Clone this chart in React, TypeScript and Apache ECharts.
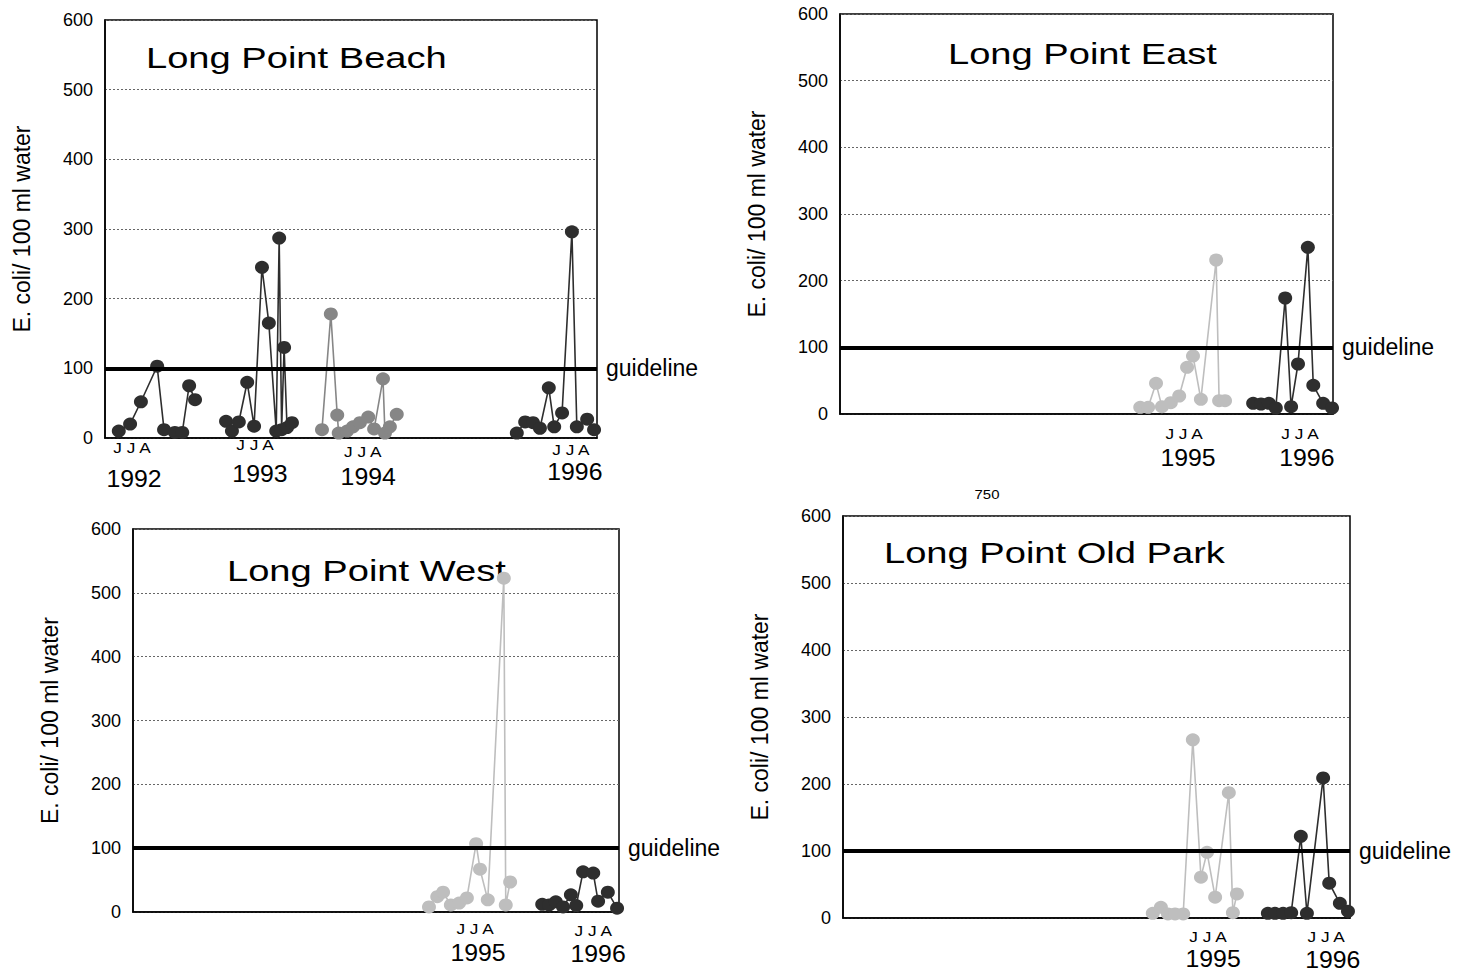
import React, { useEffect, useRef } from "react";
import * as echarts from "echarts";

const FONT = '"Liberation Sans", Arial, Helvetica, sans-serif';

// ---- axis / text content ----
const yTickValues = [0, 100, 200, 300, 400, 500, 600];
const yAxisTitle = "E. coli/ 100 ml water";
const guidelineValue = 100;
const guidelineLabel = "guideline";
const seasonLabel = "J J A";
const strayLabel = "750";

// ---- data: sample position along each panel's time axis (0-100) and E. coli counts ----
// Long Point Beach
const beach1992X = [2.8, 5.1, 7.3, 10.6, 12.0, 14.2, 15.7, 17.1, 18.3];
const beach1992Y = [10, 20, 52, 103, 12, 8, 8, 75, 55];
const beach1993X = [24.6, 25.8, 27.2, 28.9, 30.3, 31.9, 33.3, 34.8, 35.4, 35.9, 36.4, 37.0, 38.0];
const beach1993Y = [24, 10, 23, 80, 17, 245, 165, 10, 287, 12, 130, 15, 22];
const beach1994X = [44.1, 45.9, 47.2, 47.5, 49.2, 50.4, 51.8, 53.5, 54.7, 56.5, 56.9, 57.9, 59.3];
const beach1994Y = [12, 178, 33, 7, 10, 16, 22, 30, 13, 85, 7, 16, 34];
const beach1996X = [83.7, 85.4, 87.0, 88.4, 90.2, 91.3, 92.9, 94.9, 95.9, 98.0, 99.4];
const beach1996Y = [7, 23, 22, 14, 72, 16, 36, 296, 16, 27, 12];
// Long Point East
const east1995X = [60.9, 62.5, 64.1, 65.3, 67.1, 68.8, 70.4, 71.6, 73.2, 76.3, 76.9, 78.1];
const east1995Y = [10, 10, 46, 11, 17, 27, 70, 87, 22, 231, 20, 20];
const east1996X = [83.8, 85.4, 87.0, 88.4, 90.3, 91.5, 92.9, 94.9, 96.0, 98.0, 99.8];
const east1996Y = [16, 15, 16, 9, 174, 11, 75, 250, 43, 16, 9];
// Long Point West
const west1995X = [60.9, 62.6, 63.8, 65.4, 67.1, 68.7, 70.6, 71.4, 73.0, 76.3, 76.7, 77.6];
const west1995Y = [8, 24, 31, 11, 14, 22, 107, 67, 19, 523, 11, 47];
const west1996X = [84.2, 85.6, 87.0, 88.5, 90.1, 91.2, 92.6, 94.7, 95.7, 97.7, 99.6];
const west1996Y = [12, 11, 16, 8, 27, 10, 63, 61, 17, 31, 6];
// Long Point Old Park
const oldPark1995X = [61.1, 62.7, 64.1, 65.5, 67.1, 69.0, 70.6, 71.8, 73.4, 76.1, 76.9, 77.7];
const oldPark1995Y = [7, 16, 6, 6, 6, 266, 61, 98, 31, 187, 8, 36];
const oldPark1996X = [83.8, 85.2, 86.8, 88.4, 90.3, 91.5, 94.7, 95.9, 98.0, 99.6];
const oldPark1996Y = [7, 7, 7, 8, 122, 7, 209, 52, 22, 10];

const panelTitles = ["Long Point Beach", "Long Point East", "Long Point West", "Long Point Old Park"];

const TONES: Record<string, string> = { dark: "#2e2e2e", mid: "#868686", light: "#bebebe" };

type SeriesDef = { name: string; x: number[]; y: number[]; tone: string };
const panelSeries: SeriesDef[][] = [
  [
    { name: "1992", x: beach1992X, y: beach1992Y, tone: "dark" },
    { name: "1993", x: beach1993X, y: beach1993Y, tone: "dark" },
    { name: "1994", x: beach1994X, y: beach1994Y, tone: "mid" },
    { name: "1996", x: beach1996X, y: beach1996Y, tone: "dark" },
  ],
  [
    { name: "1995", x: east1995X, y: east1995Y, tone: "light" },
    { name: "1996", x: east1996X, y: east1996Y, tone: "dark" },
  ],
  [
    { name: "1995", x: west1995X, y: west1995Y, tone: "light" },
    { name: "1996", x: west1996X, y: west1996Y, tone: "dark" },
  ],
  [
    { name: "1995", x: oldPark1995X, y: oldPark1995Y, tone: "light" },
    { name: "1996", x: oldPark1996X, y: oldPark1996Y, tone: "dark" },
  ],
];

// ---- layout (pixels) ----
const grids = [
  { left: 105, top: 20, width: 492, height: 418 },
  { left: 840, top: 14, width: 493, height: 400 },
  { left: 133, top: 529, width: 486, height: 383 },
  { left: 843, top: 516, width: 507, height: 402 },
];
const titleLayout = [
  { x: 146, y: 58 },
  { x: 948, y: 54 },
  { x: 227, y: 571 },
  { x: 884, y: 553 },
];
const yearLayout: { year: string; jx: number; jdy: number; yx: number; ydy: number }[][] = [
  [
    { year: "1992", jx: 5.5, jdy: 9, yx: 5.9, ydy: 41 },
    { year: "1993", jx: 30.5, jdy: 6, yx: 31.5, ydy: 36 },
    { year: "1994", jx: 52.4, jdy: 13, yx: 53.5, ydy: 39 },
    { year: "1996", jx: 94.7, jdy: 11, yx: 95.5, ydy: 34 },
  ],
  [
    { year: "1995", jx: 69.8, jdy: 19, yx: 70.6, ydy: 44 },
    { year: "1996", jx: 93.3, jdy: 19, yx: 94.7, ydy: 44 },
  ],
  [
    { year: "1995", jx: 70.4, jdy: 16, yx: 71.0, ydy: 41 },
    { year: "1996", jx: 94.7, jdy: 18, yx: 95.7, ydy: 42 },
  ],
  [
    { year: "1995", jx: 72.0, jdy: 18, yx: 73.0, ydy: 41 },
    { year: "1996", jx: 95.3, jdy: 18, yx: 96.6, ydy: 42 },
  ],
];

function buildOption() {
  const xAxis: any[] = [];
  const yAxis: any[] = [];
  const series: any[] = [];
  const graphic: any[] = [];

  grids.forEach((g, i) => {
    xAxis.push({
      type: "value",
      gridIndex: i,
      min: 0,
      max: 100,
      axisLabel: { show: false },
      axisTick: { show: false },
      splitLine: { show: false },
      axisLine: { show: true, onZero: false, lineStyle: { color: "#000", width: 1.5 } },
    });
    yAxis.push({
      type: "value",
      gridIndex: i,
      min: yTickValues[0],
      max: yTickValues[yTickValues.length - 1],
      interval: yTickValues[1] - yTickValues[0],
      name: yAxisTitle,
      nameLocation: "middle",
      nameRotate: 90,
      nameGap: 72,
      nameTextStyle: { fontSize: 23, fontFamily: FONT, color: "#000" },
      axisLabel: { fontSize: 18, fontFamily: FONT, color: "#000", margin: 12 },
      axisTick: { show: false },
      axisLine: { show: true, lineStyle: { color: "#000", width: 1.5 } },
      splitLine: { show: true, lineStyle: { color: "#666", width: 1, type: [2, 2] } },
    });

    panelSeries[i].forEach((s, k) => {
      const color = TONES[s.tone];
      const item: any = {
        type: "line",
        name: s.name,
        xAxisIndex: i,
        yAxisIndex: i,
        data: s.x.map((xv, j) => [xv, s.y[j]]),
        symbol: "circle",
        symbolSize: [14, 13],
        showAllSymbol: true,
        clip: false,
        itemStyle: { color },
        lineStyle: { color, width: 1.6 },
        z: 3,
      };
      if (k === 0) {
        item.markLine = {
          silent: true,
          symbol: ["none", "none"],
          z: 4,
          data: [{ yAxis: guidelineValue }],
          lineStyle: { color: "#000", width: 4, type: "solid" },
          label: {
            show: true,
            position: "end",
            formatter: guidelineLabel,
            fontSize: 23,
            fontFamily: FONT,
            color: "#000",
            distance: 9,
          },
        };
      }
      series.push(item);
    });

    graphic.push({
      type: "text",
      x: titleLayout[i].x,
      y: titleLayout[i].y,
      scaleX: 1.27,
      style: {
        text: panelTitles[i],
        font: `30px ${FONT}`,
        fill: "#000",
        textAlign: "left",
        textVerticalAlign: "middle",
      },
    });

    const bottom = g.top + g.height;
    yearLayout[i].forEach((yl) => {
      graphic.push({
        type: "text",
        x: g.left + (yl.jx / 100) * g.width,
        y: bottom + yl.jdy,
        scaleX: 1.15,
        style: {
          text: seasonLabel,
          font: `15px ${FONT}`,
          fill: "#000",
          textAlign: "center",
          textVerticalAlign: "middle",
        },
      });
      graphic.push({
        type: "text",
        x: g.left + (yl.yx / 100) * g.width,
        y: bottom + yl.ydy,
        scaleX: 1.08,
        style: {
          text: yl.year,
          font: `23px ${FONT}`,
          fill: "#000",
          textAlign: "center",
          textVerticalAlign: "middle",
        },
      });
    });
  });

  graphic.push({
    type: "text",
    x: 987,
    y: 494,
    scaleX: 1.15,
    style: {
      text: strayLabel,
      font: `13px ${FONT}`,
      fill: "#000",
      textAlign: "center",
      textVerticalAlign: "middle",
    },
  });

  return {
    animation: false,
    backgroundColor: "#fff",
    textStyle: { fontFamily: FONT },
    grid: grids.map((g) => ({
      left: g.left,
      top: g.top,
      width: g.width,
      height: g.height,
      show: true,
      borderColor: "#000",
      borderWidth: 1.5,
      backgroundColor: "transparent",
      containLabel: false,
    })),
    xAxis,
    yAxis,
    series,
    graphic,
  };
}

export default function App() {
  const ref = useRef<HTMLDivElement>(null);
  useEffect(() => {
    if (!ref.current) return;
    const chart = echarts.init(ref.current, undefined, { renderer: "svg" });
    chart.setOption(buildOption());
    return () => chart.dispose();
  }, []);
  return (
    <div
      ref={ref}
      style={{ position: "absolute", left: 0, top: 0, width: 1463, height: 974, background: "#fff" }}
    />
  );
}
